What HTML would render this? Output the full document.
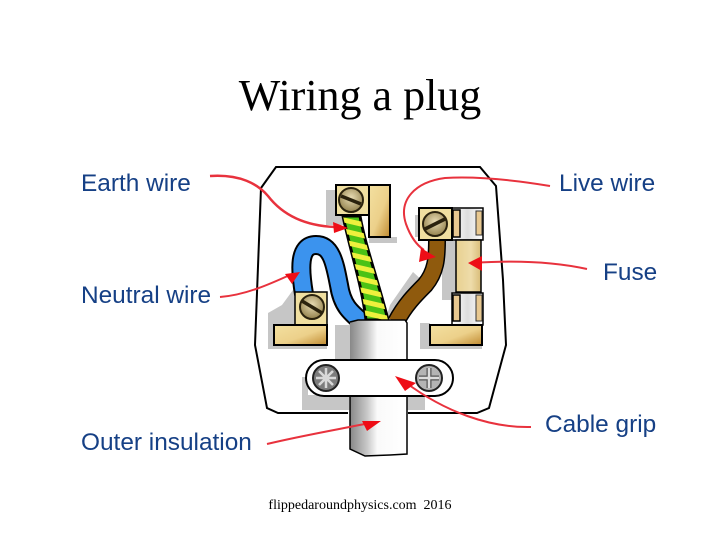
<!DOCTYPE html>
<html><head><meta charset="utf-8"><style>
html,body{margin:0;padding:0;background:#fff}
svg{display:block}
.l{font-family:"Liberation Sans",sans-serif;font-size:24.4px;fill:#143f85}
.t{font-family:"Liberation Serif",serif;fill:#000}
</style></head><body>
<svg width="720" height="540" viewBox="0 0 720 540" xmlns="http://www.w3.org/2000/svg">
<defs>
<linearGradient id="b" x1="0" y1="0" x2="1" y2="1"><stop offset="0" stop-color="#f3e0a0"/><stop offset=".55" stop-color="#ecd08a"/><stop offset="1" stop-color="#c08a30"/></linearGradient>
<linearGradient id="f" x1="0" y1="0" x2="1" y2="0"><stop offset="0" stop-color="#e8d090"/><stop offset=".6" stop-color="#eedcaa"/><stop offset="1" stop-color="#d8bc78"/></linearGradient>
<linearGradient id="g" x1="0" y1="0" x2="1" y2="0"><stop offset="0" stop-color="#888"/><stop offset=".3" stop-color="#c8c8c8"/><stop offset=".48" stop-color="#fafafa"/><stop offset="1" stop-color="#fff"/></linearGradient>
<linearGradient id="c" x1="0" y1="0" x2="1" y2="0"><stop offset="0" stop-color="#fff"/><stop offset=".5" stop-color="#ddd"/><stop offset="1" stop-color="#fff"/></linearGradient>
<radialGradient id="s" cx=".5" cy=".4" r=".65"><stop offset="0" stop-color="#e8dcb4"/><stop offset="1" stop-color="#8c7a44"/></radialGradient>
<clipPath id="ew"><path d="M343 216L360 216C365 245 378 280 388 320L366 320C362 285 350 250 343 216Z"/></clipPath>
<filter id="soft" filterUnits="userSpaceOnUse" x="0" y="0" width="720" height="540"><feGaussianBlur stdDeviation="0.3"/></filter>
</defs>
<text class="t" x="360" y="110" font-size="44" text-anchor="middle">Wiring a plug</text>
<g filter="url(#soft)">
<!-- plug body -->
<path d="M348 413H278L267 408L255 345L261 188L276 167H480L496 186L503 280L506 345L489 408L477 413H408" fill="#fff" stroke="#000" stroke-width="2"/>
<!-- shadows -->
<g fill="#c6c6c6">
<rect x="326" y="190" width="10" height="35"/><rect x="336" y="215" width="8" height="10"/><rect x="369" y="237" width="28" height="6"/>
<rect x="415" y="215" width="4" height="22"/><rect x="442" y="240" width="14" height="60"/><rect x="452" y="240" width="4" height="85"/>
<path d="M413 272L424 282L400 308L392 318L386 318L390 305Z"/>
<path d="M293 255L298 255L298 292L296 292V325H273V349H268V313L282 305L293 290Z"/>
<rect x="273" y="345" width="54" height="4"/>
<rect x="335" y="325" width="15" height="35"/>
<rect x="420" y="323" width="10" height="26"/><rect x="430" y="345" width="52" height="4"/>
<path d="M302 377H308V395H349V410H302Z"/><rect x="407" y="395" width="18" height="15"/>
</g>
<!-- neutral wire -->
<path d="M304 294C300 270 298 245 316 245C332 245 335 265 339 285C342 305 350 312 362 322" fill="none" stroke="#000" stroke-width="20"/>
<path d="M304 294C300 270 298 245 316 245C332 245 335 265 339 285C342 305 350 312 362 322" fill="none" stroke="#3a93ee" stroke-width="16"/>
<!-- earth wire -->
<path d="M343 216L360 216C365 245 378 280 388 320L366 320C362 285 350 250 343 216Z" fill="#4cc214" stroke="#000" stroke-width="3"/>
<g clip-path="url(#ew)" stroke="#eef03c" stroke-width="5">
<line x1="335" y1="218" x2="395" y2="232"/><line x1="335" y1="229" x2="395" y2="243"/><line x1="335" y1="240" x2="395" y2="254"/>
<line x1="335" y1="251" x2="395" y2="265"/><line x1="335" y1="262" x2="395" y2="276"/><line x1="335" y1="273" x2="395" y2="287"/>
<line x1="335" y1="284" x2="395" y2="298"/><line x1="335" y1="295" x2="395" y2="309"/><line x1="335" y1="306" x2="395" y2="320"/>
</g>
<!-- live wire -->
<path d="M437 240C437 258 436 272 425 285C415 295 405 305 396 322" fill="none" stroke="#000" stroke-width="18"/>
<path d="M437 240C437 258 436 272 425 285C415 295 405 305 396 322" fill="none" stroke="#8f5a10" stroke-width="15"/>
<!-- earth terminal -->
<rect x="336" y="185" width="33" height="30" fill="#f0dfa0" stroke="#000" stroke-width="2"/>
<rect x="369" y="185" width="21" height="52" fill="url(#b)" stroke="#000" stroke-width="2"/>
<!-- neutral terminal -->
<rect x="295" y="292" width="32" height="34" fill="#f0dfa0" stroke="#000" stroke-width="1.5"/>
<rect x="274" y="325" width="53" height="20" fill="url(#b)" stroke="#000" stroke-width="2"/>
<!-- live terminal + fuse -->
<rect x="452" y="208" width="31" height="32" fill="url(#c)" stroke="#000" stroke-width="1.5"/>
<rect x="453" y="210" width="7" height="27" fill="#e8c890" stroke="#000" stroke-width="1.5"/>
<rect x="476" y="211" width="6" height="24" fill="#e8c890" stroke="#333" stroke-width="1"/>
<rect x="419" y="208" width="33" height="32" fill="#f0dfa0" stroke="#000" stroke-width="2"/>
<rect x="456" y="240" width="25" height="52" fill="url(#f)" stroke="#000" stroke-width="1.5"/>
<rect x="452" y="293" width="31" height="32" fill="url(#c)" stroke="#000" stroke-width="1.5"/>
<rect x="453" y="295" width="7" height="26" fill="#e8c890" stroke="#000" stroke-width="1.5"/>
<rect x="476" y="295" width="6" height="26" fill="#e8c890" stroke="#333" stroke-width="1"/>
<rect x="430" y="325" width="52" height="20" fill="url(#b)" stroke="#000" stroke-width="2"/>
<!-- screws -->
<g stroke="#2c2410">
<circle cx="351" cy="200" r="12" fill="url(#s)" stroke-width="2"/><line x1="341" y1="196" x2="361" y2="204" stroke-width="3.5"/>
<circle cx="435" cy="224" r="12" fill="url(#s)" stroke-width="2"/><line x1="425" y1="229" x2="445" y2="219" stroke-width="3.5"/>
<circle cx="312" cy="307" r="12" fill="url(#s)" stroke-width="2"/><line x1="302" y1="301" x2="322" y2="313" stroke-width="3.5"/>
</g>
<!-- cable -->
<path d="M350 322L358 320H405L407 323V360H350Z" fill="url(#g)"/>
<path d="M350 322L358 320H405L407 323V360" fill="none" stroke="#000" stroke-width="1.5"/>
<path d="M350 395V449L365 456L390 455L407 454V395Z" fill="url(#g)"/>
<path d="M350 395V449L365 456L390 455L407 454V395" fill="none" stroke="#000" stroke-width="1.5"/>
<!-- grip -->
<rect x="306" y="360" width="147" height="36" rx="18" fill="#fff" stroke="#000" stroke-width="2"/>
<circle cx="326" cy="378" r="13" fill="#7c7c7c" stroke="#222" stroke-width="2"/>
<path d="M326 368V388M316 378H336M319 371L333 385M333 371L319 385" stroke="#d8d8d8" stroke-width="2.5"/>
<circle cx="429" cy="378" r="13" fill="#b4b4b4" stroke="#222" stroke-width="2"/>
<path d="M429 368V388M419 378H439" stroke="#555" stroke-width="5"/><path d="M429 368V388M419 378H439" stroke="#ddd" stroke-width="2.5"/>
<!-- red leaders -->
<g fill="none" stroke="#e8303c" stroke-width="2">
<path d="M210 176C240 174 258 184 268 196C285 218 310 226 335 227" stroke-width="2.5"/>
<path d="M220 297C245 295 268 285 292 274"/>
<path d="M550 186C520 181 480 176 445 178C415 182 398 200 406 224C411 238 418 246 424 250"/>
<path d="M587 269C555 262 515 260 472 263"/>
<path d="M531 427C490 428 445 412 405 382"/>
<path d="M267 444C300 436 335 430 375 422"/>
</g>
<g fill="#ee1018">
<path d="M348 228L333 222L334 233Z"/>
<path d="M300 272L285 274L292 284Z"/>
<path d="M436 257L421 248L419 262Z"/>
<path d="M468 263L482 256L482 271Z"/>
<path d="M395 376L416 383L405 391Z"/>
<path d="M381 421L362 421L367 431Z"/>
</g>
<!-- labels -->
<text class="l" x="81" y="191">Earth wire</text>
<text class="l" x="81" y="303">Neutral wire</text>
<text class="l" x="81" y="450">Outer insulation</text>
<text class="l" x="559" y="191">Live wire</text>
<text class="l" x="603" y="280">Fuse</text>
<text class="l" x="545" y="432">Cable grip</text>
</g>
<text class="t" x="360" y="509" font-size="14" text-anchor="middle" xml:space="preserve">flippedaroundphysics.com  2016</text>
</svg>
</body></html>
